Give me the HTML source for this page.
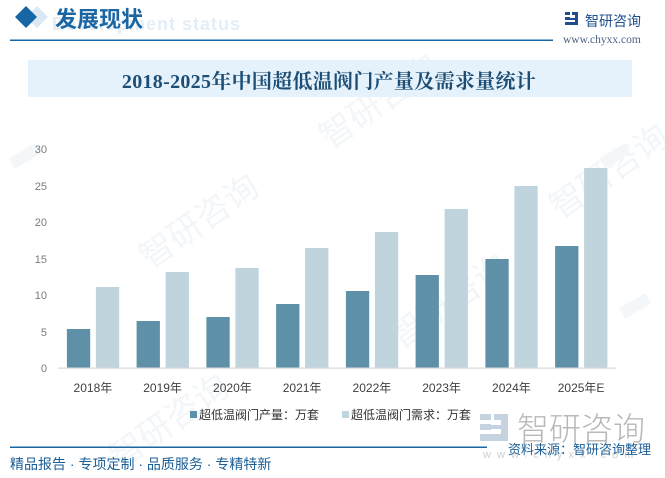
<!DOCTYPE html>
<html><head><meta charset="utf-8">
<style>
html,body{margin:0;padding:0;background:#fff;}
svg{display:block;font-family:"Liberation Sans","Noto Sans CJK SC",sans-serif;}
</style></head>
<body>
<svg width="665" height="478" viewBox="0 0 665 478" xmlns="http://www.w3.org/2000/svg">
<rect width="665" height="478" fill="#fff"/>
<!-- faint watermarks -->
<g fill="#f3f6f9" font-size="34" style="font-family:'Noto Sans CJK SC',sans-serif">
<text x="150" y="270" transform="rotate(-35 150 270)">智研咨询</text>
<text x="400" y="350" transform="rotate(-35 400 350)">智研咨询</text>
<text x="330" y="150" transform="rotate(-35 330 150)">智研咨询</text>
<text x="120" y="470" transform="rotate(-35 120 470)">智研咨询</text>
<text x="560" y="220" transform="rotate(-35 560 220)">智研咨询</text>
</g>
<g fill="#f3f7fa">
<rect x="10" y="150" width="30" height="12" transform="rotate(-30 25 156)"/>
<rect x="600" y="150" width="30" height="12" transform="rotate(-30 615 156)"/>
<rect x="620" y="300" width="30" height="12" transform="rotate(-30 635 306)"/>
</g>

<!-- header -->
<text x="52" y="30" font-size="18" font-weight="bold" fill="#e4eef7" letter-spacing="1" style="font-family:'Liberation Sans',sans-serif">Development status</text>
<polygon points="37,6 48,17 37,28 26,17" fill="#dce9f4"/>
<polygon points="26,6 37,17 26,28 15,17" fill="#1666a6"/>
<text x="55" y="27" font-size="22" font-weight="bold" fill="#1a66a3" style="font-family:'Noto Sans CJK SC',sans-serif">发展现状</text>
<rect x="10" y="39.5" width="543" height="1.5" fill="#1a66a3"/>

<!-- top right logo -->
<g fill="#1f4e8c">
<rect x="565" y="12" width="5" height="3"/>
<rect x="565" y="17" width="5" height="3"/>
<rect x="565" y="22" width="13" height="3"/>
<rect x="572" y="12" width="6" height="3"/>
<rect x="575" y="15" width="3" height="8"/>
<rect x="570" y="18" width="5" height="2"/>
</g>
<text x="585" y="26" font-size="14" fill="#1f4e8c" style="font-family:'Noto Sans CJK SC',sans-serif">智研咨询</text>
<text x="563" y="43" font-size="11.5" fill="#4a6485" style="font-family:'Liberation Serif',serif">www.chyxx.com</text>

<!-- title bar -->
<rect x="28" y="60" width="604" height="37" fill="#e6f2fb"/>
<text x="329" y="88" font-size="20" font-weight="bold" fill="#1d4f76" text-anchor="middle" letter-spacing="0.3" style="font-family:'Liberation Serif','Noto Serif CJK SC',serif">2018-2025年中国超低温阀门产量及需求量统计</text>

<!-- y axis labels -->
<g font-size="11" fill="#7a7a7a" text-anchor="end">
<text x="47" y="153">30</text>
<text x="47" y="190">25</text>
<text x="47" y="226">20</text>
<text x="47" y="263">15</text>
<text x="47" y="299">10</text>
<text x="47" y="336">5</text>
<text x="47" y="372">0</text>
</g>

<!-- bars -->
<g fill="#5e91a8">
<rect x="66.9" y="329" width="23.3" height="39"/>
<rect x="136.6" y="321" width="23.3" height="47"/>
<rect x="206.4" y="317" width="23.3" height="51"/>
<rect x="276.1" y="304" width="23.3" height="64"/>
<rect x="345.9" y="291" width="23.3" height="77"/>
<rect x="415.6" y="275" width="23.3" height="93"/>
<rect x="485.4" y="259" width="23.3" height="109"/>
<rect x="555.1" y="246" width="23.3" height="122"/>
</g>
<g fill="#bfd4dd">
<rect x="95.9" y="287" width="23.3" height="81"/>
<rect x="165.6" y="272" width="23.3" height="96"/>
<rect x="235.4" y="268" width="23.3" height="100"/>
<rect x="305.1" y="248" width="23.3" height="120"/>
<rect x="374.9" y="232" width="23.3" height="136"/>
<rect x="444.6" y="209" width="23.3" height="159"/>
<rect x="514.4" y="186" width="23.3" height="182"/>
<rect x="584.1" y="168" width="23.3" height="200"/>
</g>
<rect x="58" y="367.5" width="558" height="1.2" fill="#d9d9d9"/>

<!-- x labels -->
<g font-size="12" fill="#404040" text-anchor="middle">
<text x="92.9" y="392">2018年</text>
<text x="162.6" y="392">2019年</text>
<text x="232.4" y="392">2020年</text>
<text x="302.1" y="392">2021年</text>
<text x="371.9" y="392">2022年</text>
<text x="441.6" y="392">2023年</text>
<text x="511.4" y="392">2024年</text>
<text x="581.1" y="392">2025年E</text>
</g>

<!-- legend -->
<rect x="190" y="411" width="7" height="7" fill="#5e91a8"/>
<text x="199" y="419" font-size="12" fill="#333">超低温阀门产量：万套</text>
<rect x="342" y="411" width="7" height="7" fill="#bfd4dd"/>
<text x="351" y="419" font-size="12" fill="#333">超低温阀门需求：万套</text>

<!-- bottom-right gray logo -->
<g fill="#c5d3e0">
<rect x="480" y="414" width="11" height="6"/>
<rect x="480" y="424" width="11" height="6"/>
<rect x="480" y="434" width="28" height="7"/>
<rect x="494" y="414" width="14" height="6"/>
<rect x="501" y="420" width="7" height="14"/>
<rect x="491" y="425" width="10" height="4"/>
</g>
<text x="517" y="440" font-size="32" fill="#b8b8b8" style="font-family:'Noto Sans CJK SC',sans-serif;font-weight:300">智研咨询</text>
<text x="483" y="458" font-size="11" fill="#d0d0d0" letter-spacing="6">www.chyxx.com</text>

<!-- footer -->
<rect x="10" y="446.5" width="477" height="1.5" fill="#1a66a3"/>
<text x="508" y="454" font-size="13" fill="#1a5e96">资料来源：智研咨询整理</text>
<text x="10" y="469" font-size="14" fill="#1a5e96">精品报告 · 专项定制 · 品质服务 · 专精特新</text>
</svg>
</body></html>
